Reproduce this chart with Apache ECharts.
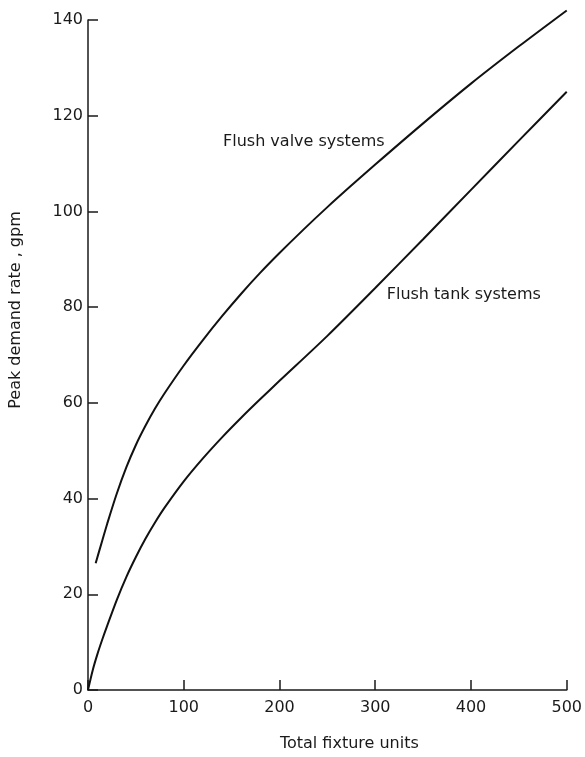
<!DOCTYPE html>
<html>
<head>
<meta charset="utf-8">
<script src="https://cdn.jsdelivr.net/npm/echarts@6/dist/echarts.min.js"></script>
<style>
html,body{margin:0;padding:0;background:#fff;}
#chart{width:585px;height:757px;}
</style>
</head>
<body>
<div id="chart"></div>
<script>
// Data (x: total fixture units, y: peak demand rate gpm)
const flushValve = [
  [8, 26.5], [15, 31.3], [20, 34.7], [30, 41], [40, 46.5], [50, 51.2], [60, 55.2],
  [70, 58.8], [80, 62], [100, 67.8], [120, 73.1], [140, 78.1], [160, 82.8],
  [180, 87.2], [200, 91.3], [225, 96.2], [250, 100.9], [275, 105.4], [300, 109.8],
  [350, 118.4], [400, 126.7], [450, 134.5], [500, 142]
];
const flushTank = [
  [0, 0], [5, 4.2], [10, 7.6], [15, 10.6], [20, 13.4], [30, 18.8], [40, 23.6],
  [50, 27.8], [60, 31.6], [70, 35], [80, 38.1], [100, 43.6], [120, 48.4],
  [140, 52.8], [160, 56.9], [180, 60.8], [200, 64.6], [250, 74], [300, 84],
  [350, 94.2], [400, 104.5], [450, 114.8], [500, 125]
];
const xTicks = [0, 100, 200, 300, 400, 500];
const yTicks = [0, 20, 40, 60, 80, 100, 120, 140];
const seriesNames = ['Flush valve systems', 'Flush tank systems'];
const labelAnchors = [[141, 114.5], [312, 82.5]];

const font = 'DejaVu Sans';
const ink = '#1a1a1a';
const chart = echarts.init(document.getElementById('chart'));
chart.setOption({
  backgroundColor: '#fff',
  animation: false,
  grid: {left: 87, right: 16, top: 20, bottom: 57},
  xAxis: {
    type: 'value', min: 0, max: 500, interval: 100,
    name: 'Total fixture units', nameLocation: 'middle', nameGap: 46,
    nameTextStyle: {fontFamily: font, fontSize: 16, color: ink, padding: [0, 0, 0, 44]},
    axisLine: {lineStyle: {color: ink, width: 1.5}},
    axisTick: {inside: true, length: 10, lineStyle: {color: ink, width: 1.5}},
    axisLabel: {fontFamily: font, fontSize: 16, color: ink, margin: 10,
      formatter: v => xTicks.includes(v) ? String(v) : ''},
    splitLine: {show: false}
  },
  yAxis: {
    type: 'value', min: 0, max: 140, interval: 20,
    name: 'Peak demand rate , gpm', nameLocation: 'middle', nameGap: 64,
    nameTextStyle: {fontFamily: font, fontSize: 16, color: ink, padding: [0, 0, 0, 90]},
    axisLine: {lineStyle: {color: ink, width: 1.5}},
    axisTick: {inside: true, length: 10, lineStyle: {color: ink, width: 1.5}},
    axisLabel: {fontFamily: font, fontSize: 16, color: ink, margin: 5,
      formatter: v => yTicks.includes(v) ? String(v) : ''},
    splitLine: {show: false}
  },
  series: [flushValve, flushTank].map((d, i) => ({
    name: seriesNames[i],
    type: 'line', data: d, smooth: 0.3, showSymbol: false,
    clip: false,
    lineStyle: {color: '#111', width: 2},
    markPoint: {
      symbol: 'circle', symbolSize: 0,
      data: [{coord: labelAnchors[i], value: seriesNames[i]}],
      label: {show: true, position: 'right', distance: 0, formatter: seriesNames[i],
        fontFamily: font, fontSize: 16, color: ink}
    }
  }))
});
</script>
</body>
</html>
